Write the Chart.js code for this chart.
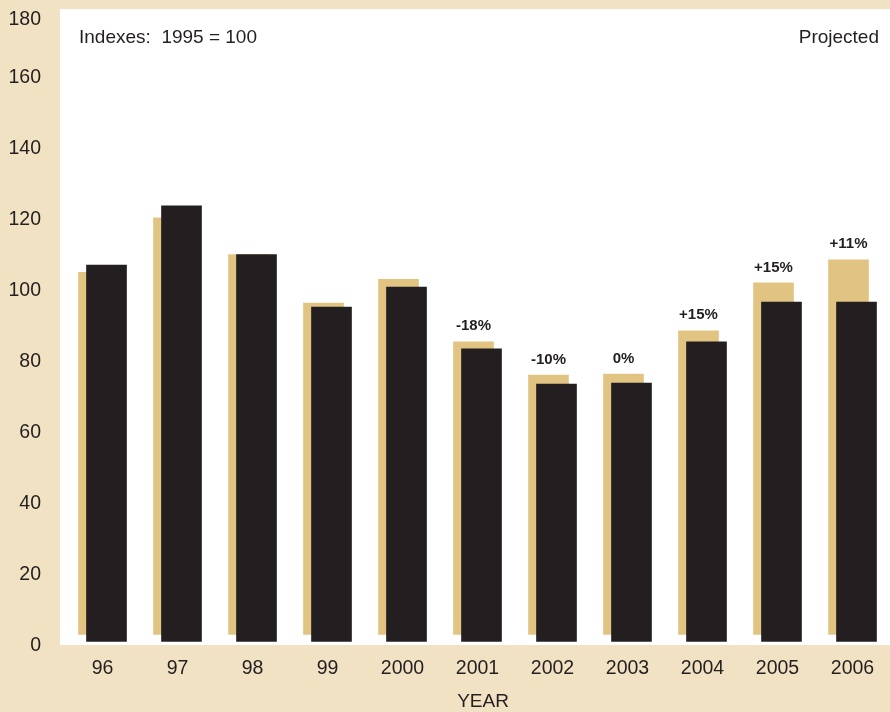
<!DOCTYPE html>
<html>
<head>
<meta charset="utf-8">
<script src="https://cdn.jsdelivr.net/npm/chart.js@4"></script>
<style>
  html, body { margin: 0; padding: 0; background: #f2e2c4; overflow: hidden; }
  #wrap { width: 890px; height: 712px; }
</style>
</head>
<body>
<div id="wrap"><canvas id="chart"></canvas></div>
<script>
// Indexes, 1995 = 100
const years = ['96', '97', '98', '99', '2000', '2001', '2002', '2003', '2004', '2005', '2006'];
const actual = [107, 123.7, 110, 95.2, 100.8, 83.4, 73.5, 73.8, 85.4, 96.6, 96.6];
const projected = [105, 120.3, 110, 96.3, 103, 85.4, 76, 76.3, 88.5, 102, 108.5];
const changeLabels = ['', '', '', '', '', '-18%', '-10%', '0%', '+15%', '+15%', '+11%'];
const yTicks = [0, 20, 40, 60, 80, 100, 120, 140, 160, 180];

const ink = '#231f20';
const tan = '#e2c482';
const fontFamily = '"Liberation Sans", Arial, Helvetica, sans-serif';

// white panel behind the bars
const panel = {
    id: 'panel',
    beforeDraw(chart) {
        const { ctx, chartArea } = chart;
        ctx.save();
        ctx.fillStyle = '#ffffff';
        ctx.fillRect(chartArea.left - 5, 9, chartArea.right - chartArea.left + 5, chartArea.bottom - 9);
        ctx.restore();
    }
};

// tan bars sit a little to the left of the black ones
const offsetBars = {
    id: 'offsetBars',
    afterDatasetsUpdate(chart) {
        chart.getDatasetMeta(0).data.forEach(bar => { bar.x += 4; });
        chart.getDatasetMeta(1).data.forEach(bar => { bar.x -= 4; });
    }
};

// y labels, notes, axis title and percent changes
const labels = {
    id: 'labels',
    afterDraw(chart) {
        const { ctx, chartArea } = chart;
        const y = chart.scales.y;
        ctx.save();
        ctx.fillStyle = ink;
        ctx.font = '19.5px ' + fontFamily;
        ctx.textAlign = 'right';
        ctx.textBaseline = 'middle';
        yTicks.forEach(v => {
            ctx.fillText(String(v), 41, Math.max(20, y.getPixelForValue(v) + 1));
        });

        ctx.font = '19px ' + fontFamily;
        ctx.textAlign = 'left';
        ctx.fillText('Indexes:  1995 = 100', 79, 38);
        ctx.textAlign = 'right';
        ctx.fillText('Projected', 879, 38);
        ctx.textAlign = 'center';
        ctx.fillText('YEAR', 483, 702);

        ctx.font = 'bold 15px ' + fontFamily;
        ctx.textBaseline = 'bottom';
        chart.getDatasetMeta(1).data.forEach((bar, i) => {
            if (changeLabels[i]) ctx.fillText(changeLabels[i], bar.x, bar.y - 8);
        });
        ctx.restore();
    }
};

new Chart(document.getElementById('chart'), {
    type: 'bar',
    data: {
        labels: years,
        datasets: [
            {
                label: 'Actual',
                data: actual,
                backgroundColor: ink,
                base: 1,
                barThickness: 40,
                grouped: false
            },
            {
                label: 'Projected',
                data: projected,
                backgroundColor: tan,
                base: 3,
                barThickness: 40,
                grouped: false
            }
        ]
    },
    options: {
        responsive: true,
        maintainAspectRatio: false,
        animation: false,
        layout: { padding: { left: 65, top: 6, right: 0, bottom: 19.6 } },
        plugins: {
            legend: { display: false },
            tooltip: { enabled: false }
        },
        scales: {
            x: {
                grid: { display: false, drawTicks: false },
                border: { display: false },
                ticks: {
                    color: ink,
                    padding: 12,
                    font: { family: fontFamily, size: 19.5 }
                }
            },
            y: {
                display: false,
                min: 0,
                max: 180
            }
        }
    },
    plugins: [panel, offsetBars, labels]
});
</script>
</body>
</html>
